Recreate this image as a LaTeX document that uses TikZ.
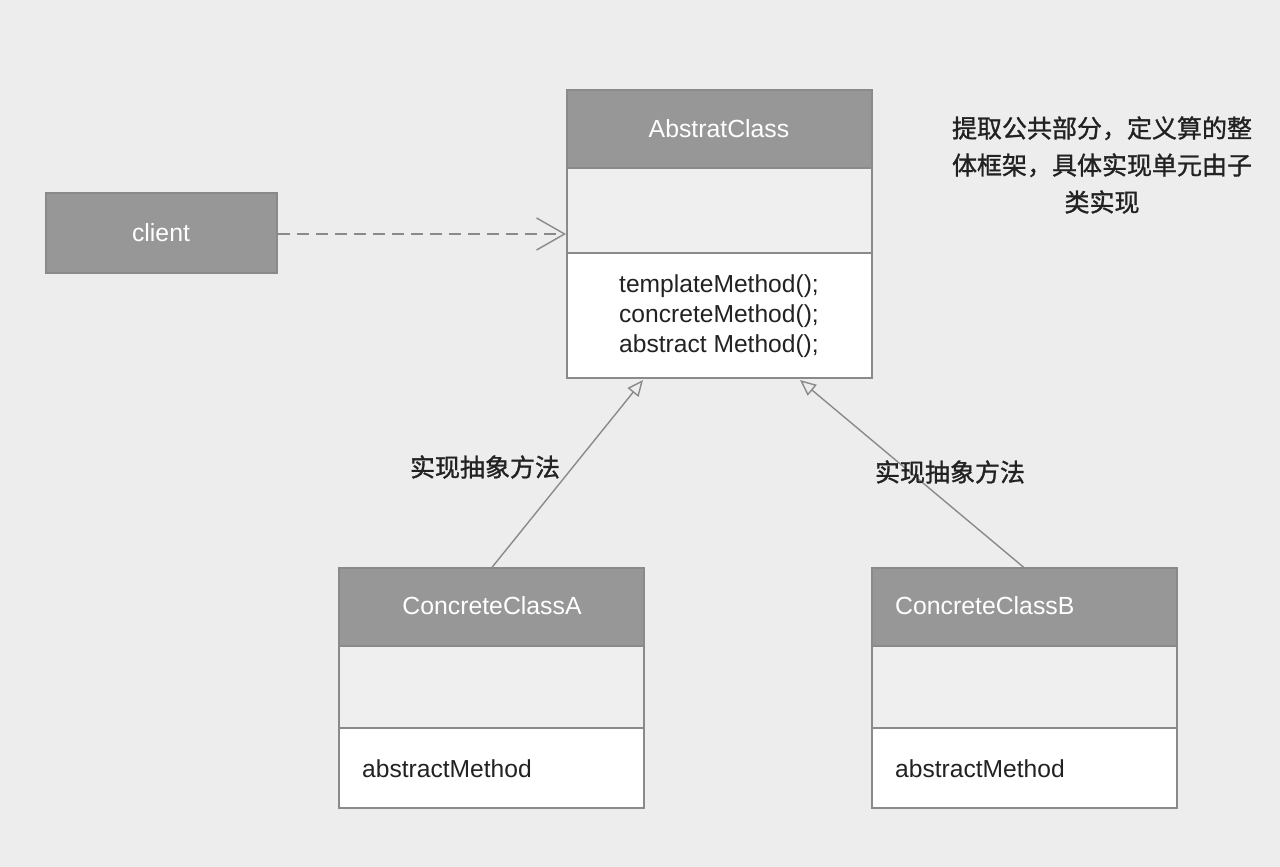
\documentclass[tikz,border=0pt]{standalone}
\usepackage{fontspec}
\setmainfont{Liberation Sans}
\newfontfamily\cjk[FakeBold=1.2]{Noto Sans CJK SC}
\usetikzlibrary{arrows.meta}
\definecolor{bgc}{HTML}{EDEDED}
\definecolor{hdrc}{HTML}{979797}
\definecolor{edgec}{HTML}{8A8A8A}
\definecolor{midc}{HTML}{EFEFEF}
\definecolor{txtc}{HTML}{222222}
\begin{document}
\begin{tikzpicture}[x=1pt,y=-1pt,
  box/.style={draw=edgec, line width=1.6pt, inner sep=0pt, outer sep=0pt, anchor=north west, minimum width=305pt},
  hdr/.style={box, fill=hdrc, minimum height=78pt},
  mid/.style={box, fill=midc},
  body/.style={box, fill=white},
  ttl/.style={text=white, font=\fontsize{24.8}{30}\selectfont, inner sep=0pt},
  mtxt/.style={text=txtc, font=\fontsize{24.6}{30}\selectfont, inner sep=0pt},
  lbl/.style={text=txtc, font=\cjk\fontsize{25}{37}\selectfont, inner sep=0pt},
  conn/.style={draw=edgec, line width=1.4pt}
]
\useasboundingbox[fill=bgc] (0,0) rectangle (1280,867);

% client
\node[box, fill=hdrc, minimum width=231pt, minimum height=80pt] (client) at (46,193) {};
\node[ttl] (clientT) at (161,233) {client};

% AbstratClass
\node[mid, minimum height=85pt] (absM) at (567,168) {};
\node[body, minimum height=125pt] (absB) at (567,253) {};
\node[hdr] (absH) at (567,90) {};
\node[ttl] (absT) at (719,129) {AbstratClass};
\node[mtxt, align=left] (absMeth) at (719,316) {templateMethod();\\concreteMethod();\\abstract Method();};

% ConcreteClassA
\node[mid, minimum height=82pt] (cAM) at (339,646) {};
\node[body, minimum height=80pt] (cAB) at (339,728) {};
\node[hdr] (cAH) at (339,568) {};
\node[ttl] (cAT) at (492,606) {ConcreteClassA};
\node[mtxt, anchor=west] (cAMeth) at (362,769) {abstractMethod};

% ConcreteClassB
\node[mid, minimum height=82pt] (cBM) at (872,646) {};
\node[body, minimum height=80pt] (cBB) at (872,728) {};
\node[hdr] (cBH) at (872,568) {};
\node[ttl, anchor=west] (cBT) at (895,606) {ConcreteClassB};
\node[mtxt, anchor=west] (cBMeth) at (895,769) {abstractMethod};

% connectors
\coordinate (depEnd) at (566,234);
\coordinate (depStart) at (278,234);
\coordinate (inhA) at (643,380);
\coordinate (inhB) at (800,380);
\draw[conn, dashed, dash pattern=on 12pt off 7pt, -{Straight Barb[length=28pt, width=32pt, line width=1.4pt]}] (depStart) -- (depEnd);
\draw[conn, -{Triangle[open, length=16pt, width=14pt, line width=1.4pt]}] (cAH.north) -- (inhA);
\draw[conn, -{Triangle[open, length=16pt, width=14pt, line width=1.4pt]}] (cBH.north) -- (inhB);

% labels
\node[lbl] (lA) at (485,467) {实现抽象方法};
\node[lbl] (lB) at (950,472) {实现抽象方法};
\node[lbl, align=center] (note) at (1102,165) {提取公共部分，定义算的整\\体框架，具体实现单元由子\\类实现};
\end{tikzpicture}
\end{document}
